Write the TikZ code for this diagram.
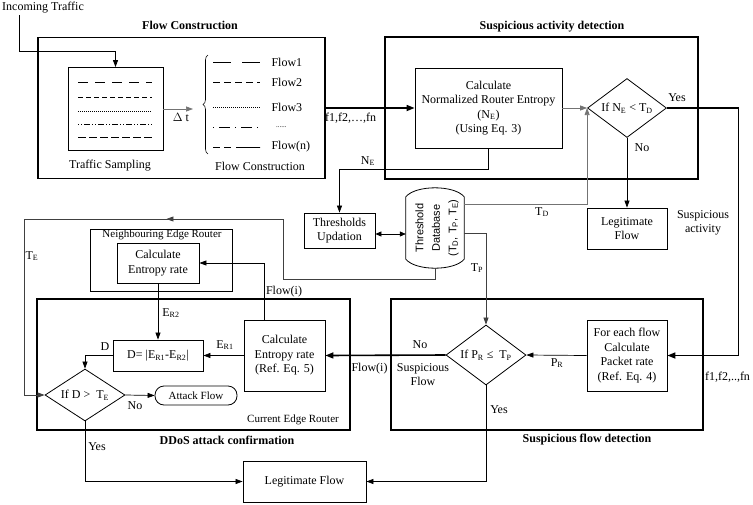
\documentclass[tikz,border=0pt]{standalone}
\usepackage{fontspec}
\setmainfont{Liberation Serif}
\newfontfamily\dbfont{Liberation Sans}
\usepackage{tikz}
\usetikzlibrary{arrows.meta,calc,shapes.geometric,decorations.pathreplacing,decorations.markings}

\begin{document}
\begin{tikzpicture}[x=1pt,y=1pt,yscale=-1,
  every node/.style={font=\fontsize{12}{14.5}\selectfont},
  bigbox/.style={draw,line width=1.6pt,inner sep=0pt},
  box/.style={draw,line width=0.8pt,inner sep=1pt,align=center},
  decide/.style={draw,diamond,aspect=1.35,line width=0.8pt,inner sep=0pt,align=center},
  title/.style={font=\bfseries\fontsize{12}{14.5}\selectfont},
  smalltxt/.style={font=\fontsize{11}{13}\selectfont},
  conn/.style={line width=0.7pt,-{Triangle[length=7pt,width=5pt]}},
  grayconn/.style={conn,draw=black!55},
  heavy/.style={line width=1.6pt,-{Triangle[length=8pt,width=6pt]}},
  sample/.style={line width=0.8pt}
]
\useasboundingbox (0,0) rectangle (753,504);

%Group boxes
\draw (181.5,108) node [bigbox,minimum width=287pt,minimum height=141pt] (fc) {};
\draw (541.5,108) node [bigbox,minimum width=313pt,minimum height=142pt] (sad) {};
\draw (193.5,364.5) node [bigbox,minimum width=313pt,minimum height=131pt] (ddos) {};
\draw (547,364.5) node [bigbox,minimum width=312pt,minimum height=131pt] (sfd) {};
\draw (161,260) node [box,minimum width=142pt,minimum height=62pt] (ner) {};

% Titles
\draw (190,25) node [title] (tfc) {Flow Construction};
\draw (552,27) node [title] (tsad) {Suspicious activity detection};
\draw (227,440) node [title] (tddos) {DDoS attack confirmation};
\draw (587,440) node [title] (tsfd) {Suspicious flow detection};

%Flow construction
\draw (2,8) node [anchor=west,inner sep=0pt] (lblin) {Incoming Traffic};
\coordinate (inc) at (19,15);
\draw (115.5,109) node [box,minimum width=95pt,minimum height=83pt] (samp) {};
\draw [sample,dash pattern=on 10pt off 7pt] (78,82) -- (152,82);
\draw [sample,dash pattern=on 5pt off 3pt] (78,97) -- (152,97);
\draw [sample,dash pattern=on 1pt off 1pt] (78,111) -- (152,111);
\draw [sample,dash pattern=on 1pt off 2pt on 1pt off 2pt on 6pt off 2pt] (78,124) -- (152,124);
\draw [sample,dash pattern=on 8pt off 3pt] (78,137) -- (152,137);
\draw (110,166) node (lblsamp) {Traffic Sampling};
\coordinate (brc) at (193,108);
\draw (181,117) node (lbldt) {$\Delta$ t};
\draw [line width=0.6pt,decorate,decoration={brace,amplitude=5pt}] (208,154) -- (208,55);
\draw [sample,dash pattern=on 18pt off 11pt] (213,62) -- (260,62);
\draw [sample,dash pattern=on 7pt off 4pt] (213,82) -- (260,82);
\draw [sample,dash pattern=on 1pt off 1pt] (213,107) -- (260,107);
\draw [sample,dash pattern=on 1pt off 5pt on 11pt off 5pt] (213,127) -- (260,127);
\draw [sample,dash pattern=on 7pt off 4pt on 7pt off 5pt on 24pt off 0pt] (213,147) -- (260,147);
\draw (268,62) node [anchor=west] (lblf1) {Flow1};
\draw (268,82) node [anchor=west] (lblf2) {Flow2};
\draw (268,107) node [anchor=west] (lblf3) {Flow3};
\draw (276,127) node [anchor=west,inner sep=0pt] (lbldots) {\fontsize{7}{8}\selectfont......};
\draw (268,147) node [anchor=west] (lblfn) {Flow(n)};
\draw (260,166) node (lblflowc) {Flow Construction};
\draw (325,118) node [anchor=west,inner sep=0pt] (lblf) {f1,f2,…,fn};

%Suspicious activity detection
\draw (488.5,108) node [box,minimum width=147pt,minimum height=80pt] (calc) {Calculate\\Normalized Router Entropy\\(N\textsubscript{E})\\(Using Eq. 3)};
\draw (627,108) node [decide,minimum width=79pt,minimum height=59pt] (dia1) {If N\textsubscript{E} < T\textsubscript{D}};
\draw (627,228.5) node [box,minimum width=80pt,minimum height=41pt] (leg1) {Legitimate\\Flow};
\draw (677,98) node (lblyes1) {Yes};
\draw (642,148) node (lblno1) {No};
\draw (703,223) node [align=center] (lblsusact) {Suspicious\\activity};

%Thresholds
\draw (339.5,230.5) node [box,minimum width=71pt,minimum height=35pt] (thr) {Thresholds\\Updation};
\draw (435,228) node [minimum width=58pt,minimum height=80pt,inner sep=0pt] (db) {};
\draw [line width=0.8pt] ($(db.north west)+(0,9)$) .. controls ($(db.north west)+(10,-3)$) and ($(db.north east)+(-10,-3)$) .. ($(db.north east)+(0,9)$) -- ($(db.south east)+(0,-9)$) .. controls ($(db.south east)+(-10,3)$) and ($(db.south west)+(10,3)$) .. ($(db.south west)+(0,-9)$) -- cycle;
\draw (437,228) node [rotate=90,align=center,font=\dbfont\fontsize{11}{16.5}\selectfont] (dbtxt) {Threshold\\Database\\(T\textsubscript{D}, T\textsubscript{P}, T\textsubscript{E})};
\draw (368,161) node (lblne) {N\textsubscript{E}};
\draw (542,212) node (lbltd) {T\textsubscript{D}};
\draw (477,268) node (lbltp) {T\textsubscript{P}};
\draw (32,256) node (lblte) {T\textsubscript{E}};

%DDoS attack confirmation
\draw (162,235) node [smalltxt] (lblner) {Neighbouring Edge Router};
\draw (158,263) node [box,minimum width=82pt,minimum height=40pt] (ent2) {Calculate\\Entropy rate};
\draw (158,355.5) node [box,minimum width=90pt,minimum height=31pt] (dbox) {D= |E\textsubscript{R1}-E\textsubscript{R2}|};
\draw (284.5,355.5) node [box,minimum width=81pt,minimum height=71pt] (ent1) {Calculate\\Entropy rate\\(Ref. Eq. 5)};
\draw (85,395) node [decide,minimum width=80pt,minimum height=52pt] (dia3) {If D >~ T\textsubscript{E}};
\draw (196,395.5) node [box,smalltxt,rounded corners=9pt,minimum width=82pt,minimum height=19pt,inner sep=0pt] (atk) {Attack Flow};
\draw (304.5,481.5) node [box,minimum width=123pt,minimum height=41pt] (leg2) {Legitimate Flow};
\draw (284,292) node (lblflowi1) {Flow(i)};
\draw (171,313) node (lbler2) {E\textsubscript{R2}};
\draw (225,345) node (lbler1) {E\textsubscript{R1}};
\draw (105,347) node (lbld) {D};
\draw (135,406) node (lblno3) {No};
\draw (293,420) node [smalltxt] (lblcer) {Current Edge Router};
\draw (97,447) node (lblyes3) {Yes};

%Suspicious flow detection
\draw (486,355) node [decide,minimum width=80pt,minimum height=60pt] (dia2) {If P\textsubscript{R} ≤~ T\textsubscript{P}};
\draw (627,355.5) node [box,minimum width=80pt,minimum height=71pt] (pkt) {For each flow\\Calculate\\Packet rate\\(Ref. Eq. 4)};
\draw (420,345) node (lblno2) {No};
\draw (423,374.5) node [align=center] (lblsusflow) {Suspicious\\Flow};
\draw (369.5,369) node [inner sep=0pt] (lblflowi2) {Flow(i)};
\draw (557,363) node (lblpr) {P\textsubscript{R}};
\draw (499,410) node (lblyes2) {Yes};
\draw (727.5,377) node [inner sep=0pt] (lblfn2) {f1,f2,..,fn};

%Connectors
\draw [conn,line width=1pt] (inc) -- ++(0,36) -| (samp.north);
\draw [grayconn] (samp.east) -- (samp.east -| brc);
\draw [heavy] (fc.east) -- (calc.west);
\draw [grayconn] (calc.east) -- (dia1.west);
\draw [heavy] (dia1.east) -- ++(71.5,0) |- (pkt.east);
\draw [conn] (dia1.south) -- (leg1.north);
\draw [conn] (calc.south) -- ++(0,21) -| (thr.north);
\draw [line width=0.7pt,{Triangle[length=6pt,width=5pt]}-{Triangle[length=6pt,width=5pt]}] ($(thr.east)+(0,3.5)$) -- ($(thr.east -| db.west)+(0,3.5)$);
\draw [grayconn] ($(db.east)+(0,-24)$) -| (dia1.west);
\draw [conn,draw=black!75] ($(db.east)+(0,5)$) -| (dia2.north);
\coordinate (teR) at (283,219);
\coordinate (teL) at (24,219);
\draw [line width=0.7pt,draw=black!75] (db.south) -- ++(0,11) -| (teR);
\draw [line width=0.7pt,draw=black!75,postaction={decorate},decoration={markings,mark=at position 0.45 with {\arrow{Triangle[length=7pt,width=5pt]}}}] (teR) -- (teL);
\draw [conn,draw=black!75] (teL) |- (dia3.west);
\draw [heavy] (dia2.west) -- (ent1.east);
\draw [conn] (pkt.west) -- (dia2.east);
\draw [conn] ($(ent1.north)+(-20.5,0)$) |- (ent2.east);
\draw [conn] (ent2.south) -- (dbox.north);
\draw [conn] (ent1.west) -- (dbox.east);
\draw [conn] (dbox.west) -| (dia3.north);
\draw [conn] (dia3.east) -- (atk.west);
\draw [conn] (dia3.south) |- (leg2.west);
\draw [conn] (dia2.south) |- (leg2.east);

\end{tikzpicture}
\end{document}
